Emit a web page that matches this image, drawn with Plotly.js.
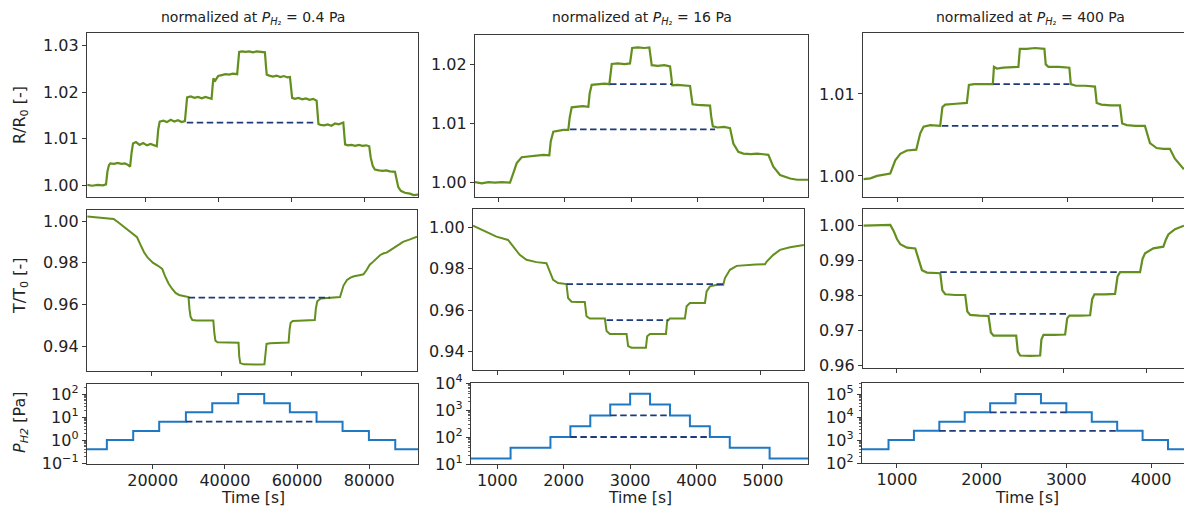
<!DOCTYPE html>
<html><head><meta charset="utf-8">
<script src="https://cdn.plot.ly/plotly-3.0.1.min.js"></script>
<style>html,body{margin:0;padding:0;background:#fff}#chart{width:1184px;height:508px}</style>
</head><body><div id="chart"></div>
<script>
// ---------------- DATA ----------------
// Column 1: normalized at P_H2 = 0.4 Pa  (time [s], value)
const R1 = [[4200,1.0001],[5500,0.9999],[7000,1.0001],[8500,1.0000],[9300,1.0002],
 [9700,1.0030],[10100,1.0043],[10500,1.0047],[11500,1.0046],[12500,1.0048],[13500,1.0046],[14500,1.0047],[15300,1.0044],[15900,1.0040],
 [16300,1.0070],[16700,1.0090],[17500,1.0093],[18500,1.0087],[19500,1.0091],[20500,1.0086],[21500,1.0089],[22500,1.0085],[23200,1.0084],
 [23600,1.0120],[24000,1.0137],[25000,1.0139],[26000,1.0136],[27000,1.0141],[28000,1.0137],[29000,1.0140],[30000,1.0136],[30900,1.0138],
 [31200,1.0170],[31500,1.0189],[32500,1.0191],[33500,1.0188],[34500,1.0190],[35500,1.0187],[36500,1.0190],[37500,1.0188],[38200,1.0186],
 [38500,1.0215],[38700,1.0230],[39200,1.0225],[40000,1.0235],[41000,1.0237],[42000,1.0239],[43000,1.0238],[44000,1.0240],[45200,1.0239],
 [45500,1.0270],[45750,1.0287],[46500,1.0288],[47500,1.0287],[48500,1.0288],[49500,1.0286],[50500,1.0288],[51500,1.0287],[52800,1.0286],
 [53100,1.0255],[53300,1.0238],[54000,1.0236],[55000,1.0234],[56000,1.0236],[57000,1.0233],[58000,1.0235],[59000,1.0232],[59650,1.0233],
 [59950,1.0205],[60250,1.0188],[61000,1.0186],[62000,1.0188],[63000,1.0185],[64000,1.0187],[65000,1.0184],[66000,1.0186],[66950,1.0182],
 [67200,1.0150],[67450,1.0132],[68000,1.0130],[69000,1.0129],[70000,1.0131],[71000,1.0128],[72000,1.0133],[73000,1.0131],[74250,1.0135],
 [74500,1.0105],[74750,1.0088],[75500,1.0086],[76500,1.0087],[77500,1.0085],[78500,1.0087],[79500,1.0085],[80500,1.0086],[81350,1.0084],
 [81750,1.0060],[82300,1.0042],[82900,1.0034],[84000,1.0032],[85000,1.0031],[86000,1.0032],[87000,1.0030],[88400,1.0029],
 [88900,1.0010],[89300,0.9996],[90000,0.9988],[91100,0.9984],[92500,0.9982],[93500,0.9979],[94900,0.9980]];
const R1_ref = [[31400,1.0135],[66970,1.0135]];

const T1 = [[1800,1.0022],[4000,1.0019],[6000,1.0016],[8000,1.0013],[9300,1.0010],[10500,0.9995],[12200,0.9973],[14000,0.9950],[15000,0.9935],[16000,0.9922],
 [17000,0.9885],[18000,0.9850],[19000,0.9825],[20500,0.9800],[22000,0.9785],[23200,0.9770],[24000,0.9735],[25000,0.9700],[26000,0.9675],[27000,0.9655],[28000,0.9645],[29500,0.9638],[30700,0.9635],
 [31000,0.9575],[31300,0.9540],[31800,0.9525],[33000,0.9522],[34500,0.9523],[36000,0.9521],[37800,0.9522],
 [38100,0.9460],[38400,0.9425],[39000,0.9418],[40500,0.9417],[42000,0.9418],[43500,0.9416],[45000,0.9416],
 [45200,0.9350],[45500,0.9318],[46500,0.9312],[48000,0.9311],[49500,0.9312],[51000,0.9311],[52400,0.9312],
 [52700,0.9370],[53000,0.9410],[54000,0.9413],[55500,0.9414],[57000,0.9414],[58500,0.9415],[59300,0.9417],
 [59600,0.9480],[59900,0.9512],[60500,0.9520],[62000,0.9522],[63500,0.9522],[65000,0.9523],[66800,0.9525],
 [67100,0.9580],[67500,0.9615],[68500,0.9628],[70000,0.9630],[71500,0.9631],[73000,0.9632],[74000,0.9635],
 [75000,0.9690],[76000,0.9717],[77000,0.9728],[78000,0.9735],[79500,0.9740],[80700,0.9744],[81600,0.9765],[82500,0.9790],[83500,0.9805],
 [84500,0.9822],[85500,0.9837],[86500,0.9845],[87300,0.9848],[88200,0.9858],[89200,0.9869],[90500,0.9885],[92000,0.9900],[94000,0.9912],[96000,0.9925]];
const T1_ref = [[30730,0.9632],[71160,0.9632]];

const P1_t = [1800, 7300, 14600, 21800, 29200, 36500, 43700, 50900, 58000, 65400, 72600, 79900, 87200, 93500];
const P1_v = [0.4, 1, 2.5, 6.3, 16, 40, 100, 40, 16, 6.3, 2.5, 1, 0.4, 0.4];
const P1_ref = [[29200,6.3],[65400,6.3]];

// Column 2: normalized at P_H2 = 16 Pa
const R2 = [[649,1.0001],[750,0.9999],[850,1.0001],[950,1.0000],[1050,1.0001],[1176,1.0000],[1226,1.0016],[1277,1.0033],[1352,1.0043],[1477,1.0045],[1580,1.0046],[1678,1.0047],[1768,1.0046],
 [1790,1.0070],[1828,1.0086],[1900,1.0088],[1980,1.0089],[2054,1.0089],
 [2075,1.0110],[2105,1.0127],[2180,1.0128],[2270,1.0129],[2356,1.0128],
 [2375,1.0150],[2406,1.0165],[2500,1.0166],[2600,1.0167],[2672,1.0166],
 [2690,1.0185],[2708,1.0200],[2800,1.0201],[2900,1.0200],[2983,1.0201],
 [3000,1.0215],[3015,1.0227],[3100,1.0228],[3200,1.0227],[3274,1.0228],
 [3290,1.0210],[3310,1.0198],[3400,1.0197],[3500,1.0198],[3586,1.0196],
 [3605,1.0180],[3620,1.0164],[3700,1.0165],[3800,1.0164],[3887,1.0163],
 [3905,1.0148],[3925,1.0132],[4000,1.0131],[4100,1.0131],[4188,1.0130],
 [4205,1.0112],[4230,1.0095],[4300,1.0093],[4400,1.0094],[4489,1.0092],
 [4539,1.0066],[4614,1.0052],[4690,1.0049],[4800,1.0048],[4900,1.0049],[4991,1.0048],[5066,1.0047],
 [5141,1.0027],[5242,1.0013],[5393,1.0007],[5500,1.0005],[5669,1.0005]];
const R2_refA = [[2080,1.0090],[4264,1.0090]];
const R2_refB = [[2682,1.0166],[3611,1.0166]];

const T2 = [[636,1.0008],[788,0.9987],[991,0.9955],[1167,0.9939],[1243,0.9907],[1344,0.9867],[1446,0.9843],[1598,0.9832],[1749,0.9827],[1800,0.9787],[1850,0.9747],[1926,0.9731],[2053,0.9726],
 [2077,0.9659],[2129,0.9641],[2230,0.9640],[2330,0.9640],
 [2356,0.9571],[2406,0.9560],[2520,0.9560],[2634,0.9560],
 [2660,0.9500],[2710,0.9486],[2840,0.9486],[2963,0.9486],
 [2987,0.9427],[3039,0.9419],[3150,0.9419],[3256,0.9419],
 [3276,0.9475],[3317,0.9486],[3440,0.9486],[3560,0.9486],
 [3579,0.9547],[3620,0.9560],[3730,0.9560],[3847,0.9560],
 [3873,0.9619],[3923,0.9635],[4040,0.9635],[4151,0.9635],
 [4176,0.9691],[4227,0.9715],[4320,0.9722],[4428,0.9723],
 [4454,0.9755],[4530,0.9795],[4632,0.9814],[4783,0.9819],[4920,0.9821],[5061,0.9822],
 [5087,0.9835],[5187,0.9867],[5288,0.9891],[5440,0.9904],[5650,0.9915]];
const T2_refA = [[2053,0.9726],[4428,0.9726]];
const T2_refB = [[2660,0.9552],[3594,0.9552]];

const P2_t = [600, 1200, 1800, 2100, 2400, 2700, 3000, 3300, 3600, 3900, 4200, 4500, 5100, 5700];
const P2_v = [16, 40, 100, 250, 630, 1600, 4000, 1600, 630, 250, 100, 40, 16, 16];
const P2_refA = [[2100,100],[4200,100]];
const P2_refB = [[2700,630],[3600,630]];

// Column 3: normalized at P_H2 = 400 Pa
const R3 = [[600,0.9996],[680,0.9997],[758,1.0000],[830,1.0001],[875,1.0002],[914,1.0003],[973,1.0019],[1032,1.0027],[1110,1.0031],[1220,1.0032],
 [1267,1.0052],[1306,1.0060],[1385,1.0062],[1502,1.0061],
 [1528,1.0084],[1561,1.0087],[1690,1.0088],[1816,1.0089],
 [1840,1.0111],[1900,1.0112],[2010,1.0112],[2122,1.0112],
 [2135,1.0133],[2169,1.0131],[2247,1.0132],[2340,1.0133],[2423,1.0133],
 [2440,1.0155],[2520,1.0155],[2620,1.0156],[2729,1.0155],
 [2745,1.0136],[2776,1.0133],[2900,1.0133],[3023,1.0132],
 [3040,1.0112],[3100,1.0110],[3210,1.0110],[3325,1.0109],
 [3345,1.0089],[3400,1.0087],[3510,1.0086],[3619,1.0086],
 [3645,1.0064],[3700,1.0062],[3800,1.0061],[3913,1.0061],
 [3972,1.0040],[4050,1.0034],[4130,1.0033],[4207,1.0033],
 [4266,1.0021],[4325,1.0013],[4372,1.0008]];
const R3_refA = [[1522,1.0061],[3639,1.0061]];
const R3_refB = [[2129,1.0112],[3023,1.0112]];

const T3 = [[599,1.0000],[680,1.0001],[760,1.0002],[850,1.0002],[920,1.0002],
 [960,0.9985],[1000,0.9962],[1040,0.9947],[1120,0.9937],[1220,0.9935],
 [1260,0.9900],[1300,0.9873],[1360,0.9866],[1520,0.9864],
 [1545,0.9815],[1580,0.9804],[1700,0.9802],[1820,0.9802],
 [1845,0.9755],[1880,0.9745],[1990,0.9743],[2100,0.9742],
 [2128,0.9695],[2160,0.9686],[2300,0.9686],[2432,0.9686],
 [2452,0.9640],[2480,0.9629],[2600,0.9628],[2720,0.9629],
 [2735,0.9675],[2760,0.9688],[2890,0.9688],[3020,0.9689],
 [3045,0.9735],[3072,0.9743],[3200,0.9743],[3320,0.9744],
 [3345,0.9790],[3372,0.9804],[3500,0.9804],[3620,0.9805],
 [3650,0.9855],[3680,0.9867],[3800,0.9867],[3920,0.9867],
 [3950,0.9905],[3980,0.9921],[4080,0.9935],[4200,0.9940],
 [4230,0.9960],[4260,0.9975],[4340,0.9990],[4448,1.0000]];
const T3_refA = [[1520,0.9867],[3680,0.9867]];
const T3_refB = [[2112,0.9748],[3040,0.9748]];

const P3_t = [580, 900, 1200, 1500, 1800, 2100, 2400, 2700, 3000, 3300, 3600, 3900, 4200, 4450];
const P3_v = [400, 1000, 2500, 6300, 16000, 40000, 100000, 40000, 16000, 6300, 2500, 1000, 400, 400];
const P3_refA = [[1500,2500],[3600,2500]];
const P3_refB = [[2100,16000],[3000,16000]];

const colTitles = ['normalized at <i>P</i><sub><i>H</i>\u2082</sub> = 0.4 Pa',
                   'normalized at <i>P</i><sub><i>H</i>\u2082</sub> = 16 Pa',
                   'normalized at <i>P</i><sub><i>H</i>\u2082</sub> = 400 Pa'];
const rowTitles = ['R/R<sub>0</sub> [-]', 'T/T<sub>0</sub> [-]', '<i>P</i><sub><i>H2</i></sub> [Pa]'];
const xTitle = 'Time [s]';
const logTickText = {'-1':'10<sup>\u22121</sup>','0':'10<sup>0</sup>','1':'10<sup>1</sup>','2':'10<sup>2</sup>','3':'10<sup>3</sup>','4':'10<sup>4</sup>','5':'10<sup>5</sup>'};

// ---------------- LAYOUT ----------------
const W = 1184, H = 508;
const FONT = 'DejaVu Sans, Liberation Sans, sans-serif';
const GREEN = '#638f1f', BLUE = '#1f78c4', NAVY = '#1f3a7a', AX = '#3a3a3a';

const panels = [
 {xd:[87,418],  yd:[33,197],  xr:[4100,94700], yr:[0.99748,1.03276], dt:0.01, xdt:20000},
 {xd:[475,808], yd:[35,197],  xr:[649,5663],   yr:[0.99759,1.02489], dt:0.01, xdt:1000},
 {xd:[863,1184],yd:[33,197],  xr:[593,4373],   yr:[0.99743,1.01743], dt:0.01, xdt:1000, cut:true},
 {xd:[87,417],  yd:[210,371], xr:[1700,96000], yr:[0.9280,1.00528],  dt:0.02, xdt:20000},
 {xd:[473,804], yd:[209,370], xr:[636,5652],   yr:[0.93118,1.00882], dt:0.02, xdt:1000},
 {xd:[863,1184],yd:[209,368], xr:[592,4448],   yr:[0.95934,1.00476], dt:0.01, xdt:1000, cut:true},
 {xd:[87,418],  yd:[384,464], xr:[1800,93500], yr:[-1.04,2.435], log:[-1,2], xdt:20000},
 {xd:[471,808], yd:[383,464], xr:[604,5678],   yr:[1,4],         log:[1,4],  xdt:1000},
 {xd:[862,1184],yd:[383,463], xr:[587,4389],   yr:[2.0,5.48],    log:[2,5],  xdt:1000, cut:true},
];

const layout = {
  width: W, height: H, margin: {l:0, r:0, t:0, b:0},
  paper_bgcolor: '#fff', plot_bgcolor: '#fff', showlegend: false,
  font: {family: FONT, color: '#222'},
  annotations: [],
};

panels.forEach((p, i) => {
  const n = i === 0 ? '' : String(i + 1);
  const row = Math.floor(i / 3);
  const xa = {
    domain: [p.xd[0] / W, Math.min(1, p.xd[1] / W)], range: p.xr, anchor: 'y' + n,
    showline: true, linecolor: AX, linewidth: 1.2, mirror: true,
    ticks: 'outside', ticklen: 4, tickwidth: 1, tickcolor: AX,
    showgrid: false, zeroline: false, tick0: 0, dtick: p.xdt, tickformat: 'd',
    showticklabels: row === 2, ticklabelstandoff: -2, tickfont: {family: FONT, size: 16, color: '#222'}
  };
  const ya = {
    domain: [1 - p.yd[1] / H, 1 - p.yd[0] / H], range: p.yr, anchor: 'x' + n,
    showline: true, linecolor: AX, linewidth: 1.2, mirror: !p.cut,
    ticks: 'outside', ticklen: 4, tickwidth: 1, tickcolor: AX,
    showgrid: false, zeroline: false, tickfont: {family: FONT, size: 16, color: '#222'}
  };
  if (p.log) {
    ya.type = 'log';
    const tv = [], tt = [], mv = [];
    for (let e = p.log[0]; e <= p.log[1]; e++) { tv.push(Math.pow(10, e)); tt.push(logTickText[String(e)]); }
    for (let e = p.log[0] - 1; e <= p.log[1]; e++) for (let m = 2; m <= 9; m++) mv.push(m * Math.pow(10, e));
    ya.tickmode = 'array'; ya.tickvals = tv; ya.ticktext = tt;
    ya.minor = {tickmode: 'array', tickvals: mv, ticks: 'outside', ticklen: 2, tickwidth: 0.8, tickcolor: AX, showgrid: false};
  } else {
    ya.tick0 = 0; ya.dtick = p.dt; ya.tickformat = '.2f';
  }
  layout['xaxis' + n] = xa;
  layout['yaxis' + n] = ya;
});

const traces = [];
const xs = d => d.map(q => q[0]), ys = d => d.map(q => q[1]);
function line(d, i, color, width) {
  const n = i === 0 ? '' : String(i + 1);
  traces.push({x: xs(d), y: ys(d), type: 'scatter', mode: 'lines', xaxis: 'x' + n, yaxis: 'y' + n,
    line: {color: color, width: width}, hoverinfo: 'skip'});
}
function step(t, v, i) {
  const n = i === 0 ? '' : String(i + 1);
  traces.push({x: t, y: v, type: 'scatter', mode: 'lines', xaxis: 'x' + n, yaxis: 'y' + n,
    line: {color: BLUE, width: 2, shape: 'hv'}, hoverinfo: 'skip'});
}
function ref(d, i) {
  const n = i === 0 ? '' : String(i + 1);
  traces.push({x: xs(d), y: ys(d), type: 'scatter', mode: 'lines', xaxis: 'x' + n, yaxis: 'y' + n,
    line: {color: NAVY, width: 1.8, dash: '6.5px,3.5px'}, hoverinfo: 'skip'});
}

line(R1, 0, GREEN, 2.2); ref(R1_ref, 0);
line(R2, 1, GREEN, 2.2); ref(R2_refA, 1); ref(R2_refB, 1);
line(R3, 2, GREEN, 2.2); ref(R3_refA, 2); ref(R3_refB, 2);
line(T1, 3, GREEN, 2); ref(T1_ref, 3);
line(T2, 4, GREEN, 2); ref(T2_refA, 4); ref(T2_refB, 4);
line(T3, 5, GREEN, 2.2); ref(T3_refA, 5); ref(T3_refB, 5);
step(P1_t, P1_v, 6); ref(P1_ref, 6);
step(P2_t, P2_v, 7); ref(P2_refA, 7); ref(P2_refB, 7);
step(P3_t, P3_v, 8); ref(P3_refA, 8); ref(P3_refB, 8);

// annotations: column titles, row titles, x titles
const colCenters = [252.5, 641.5, 1030];
const xTitleCenters = [252.5, 640, 1027];
colTitles.forEach((t, c) => layout.annotations.push({
  text: t, xref: 'paper', yref: 'paper', x: colCenters[c] / W, y: 1 - 18 / H,
  xanchor: 'center', yanchor: 'middle', showarrow: false, font: {family: FONT, size: 14, color: '#222'}}));
const rowCenters = [115, 286, 422];
rowTitles.forEach((t, r) => layout.annotations.push({
  text: t, xref: 'paper', yref: 'paper', x: 20 / W, y: 1 - rowCenters[r] / H, textangle: -90,
  xanchor: 'center', yanchor: 'middle', showarrow: false, font: {family: FONT, size: 16, color: '#222'}}));
xTitleCenters.forEach(cx => layout.annotations.push({
  text: xTitle, xref: 'paper', yref: 'paper', x: cx / W, y: 1 - 498 / H,
  xanchor: 'center', yanchor: 'middle', showarrow: false, borderpad: 0, font: {family: FONT, size: 15.5, color: '#222'}}));

Plotly.newPlot('chart', traces, layout, {staticPlot: true, displayModeBar: false});
</script></body></html>
